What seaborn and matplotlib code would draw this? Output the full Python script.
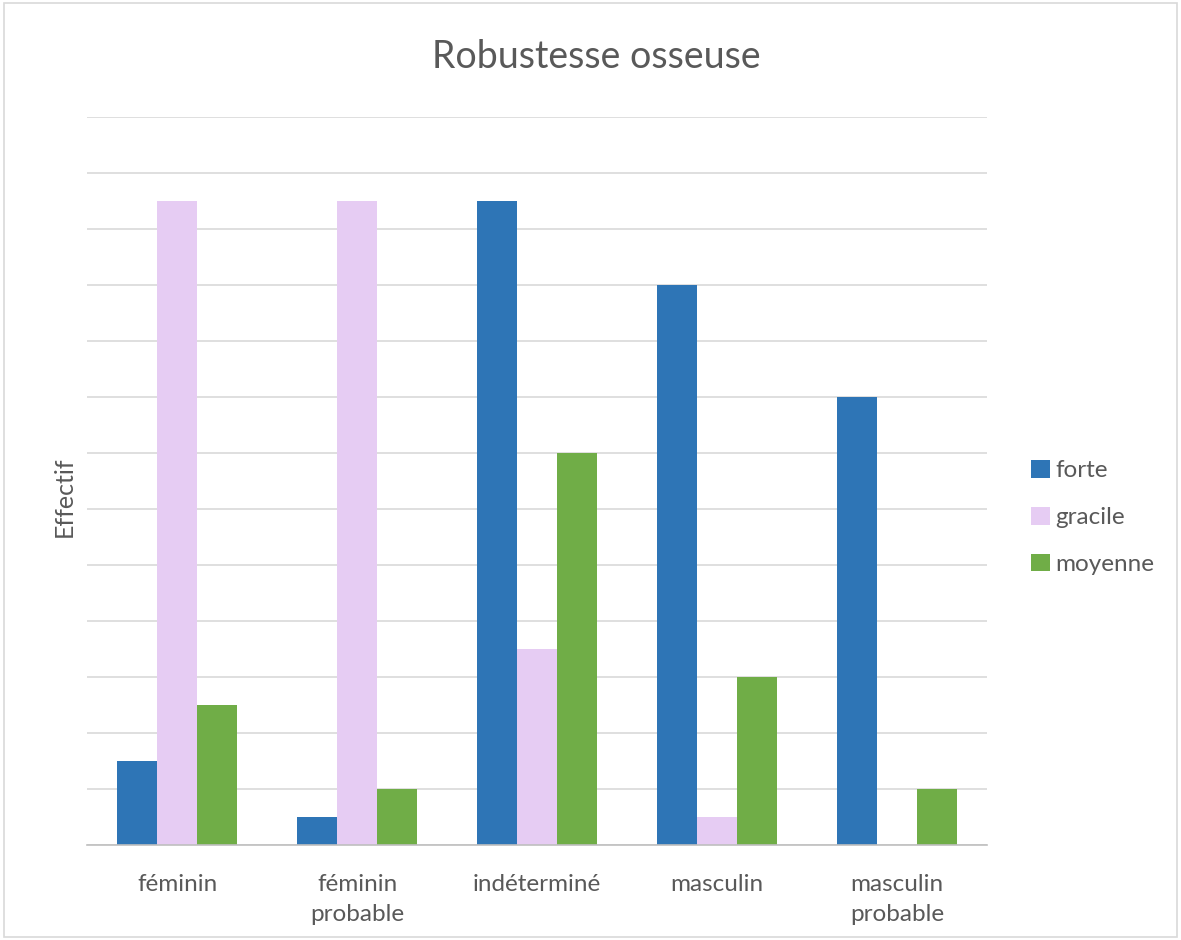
import pandas as pd
import seaborn as sns
import matplotlib.pyplot as plt
from matplotlib.patches import Rectangle

# Données (unité : effectif)
categories = ['féminin', 'féminin\nprobable', 'indéterminé', 'masculin', 'masculin\nprobable']
forte = [3, 1, 23, 20, 16]
gracile = [23, 23, 7, 1, 0]
moyenne = [5, 2, 14, 6, 2]
series = ['forte', 'gracile', 'moyenne']
couleurs = ['#2E75B6', '#E6CCF3', '#70AD47']

rows = []
for i, cat in enumerate(categories):
    for nom, vals in zip(series, [forte, gracile, moyenne]):
        rows.append({'categorie': cat, 'robustesse': nom, 'effectif': vals[i]})
df = pd.DataFrame(rows)

sns.set_theme(style="white")
plt.rcParams['font.family'] = ['Lato', 'DejaVu Sans']
gris = '#595959'

fig = plt.figure(figsize=(11.81, 9.4), dpi=100)
ax = fig.add_axes([87 / 1181, 1 - 845 / 940, 900 / 1181, 728 / 940])

sns.barplot(data=df, x='categorie', y='effectif', hue='robustesse',
            hue_order=series, palette=couleurs, width=0.667,
            saturation=1, linewidth=0, ax=ax, legend=True)

ax.set_ylim(0, 26)
ax.set_yticks(range(0, 27, 2))
ax.set_yticklabels([])
ax.yaxis.grid(True, color='#D9D9D9', linewidth=1.2)
ax.set_axisbelow(True)
ax.tick_params(axis='both', length=0)
ax.tick_params(axis='x', labelsize=17.5, labelcolor=gris, pad=21)
for lab in ax.get_xticklabels():
    lab.set_linespacing(1.5)
for s in ['top', 'right', 'left']:
    ax.spines[s].set_visible(False)
ax.spines['bottom'].set_color('#BFBFBF')
ax.spines['bottom'].set_linewidth(1.2)

ax.set_xlabel('')
ax.set_ylabel('Effectif', fontsize=18, color=gris)
ax.yaxis.set_label_coords(-0.013, 0.478)
fig.text(0.505, 1 - 57 / 940, 'Robustesse osseuse', ha='center', va='center',
         fontsize=27, color=gris)

leg = ax.legend(loc='center left', bbox_to_anchor=(1.025, 0.45), frameon=False,
                fontsize=17.5, labelcolor=gris, handlelength=0.75, handleheight=0.75,
                handletextpad=0.25, labelspacing=1.05)

fig.patches.append(Rectangle((0.003, 0.003), 0.994, 0.994, transform=fig.transFigure,
                             fill=False, edgecolor='#D9D9D9', linewidth=1.2))

fig.savefig('out.png', dpi=100)
